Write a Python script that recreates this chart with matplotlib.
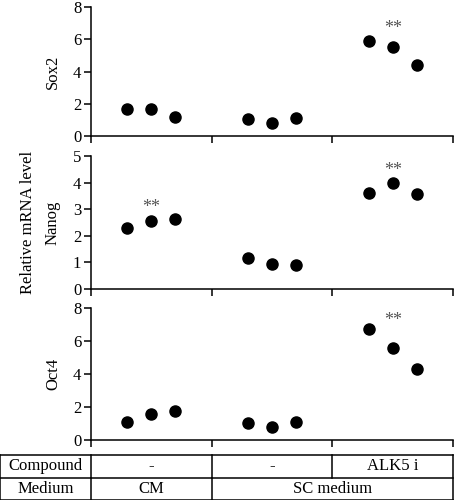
import matplotlib
matplotlib.use("Agg")
import matplotlib.pyplot as plt
import numpy as np

plt.rcParams['font.family'] = ['Liberation Serif', 'DejaVu Serif']
plt.rcParams['font.size'] = 12

# three replicates per group: CM, SC medium, SC medium + ALK5 i
genes = ["Sox2", "Nanog", "Oct4"]
sox2 = [[1.68, 1.68, 1.17], [1.03, 0.83, 1.09], [5.88, 5.53, 4.42]]
nanog = [[2.30, 2.55, 2.64], [1.15, 0.93, 0.90], [3.60, 3.98, 3.56]]
oct4 = [[1.11, 1.59, 1.76], [1.05, 0.83, 1.13], [6.73, 5.61, 4.32]]
values = [sox2, nanog, oct4]
ymax = [8, 5, 8]
yticks = [[0, 2, 4, 6, 8], [0, 1, 2, 3, 4, 5], [0, 2, 4, 6, 8]]

# significance marks: (panel, group, y of glyph centre)
stars = [(0, 2, 7.0), (1, 0, 3.27), (1, 2, 4.67), (2, 2, 7.64)]

compound = ["-", "-", "ALK5 i"]
medium = [("CM", 0, 1), ("SC medium", 1, 3)]

offsets = np.array([-0.2, 0.0, 0.2])

fig = plt.figure(figsize=(4.54, 5.0), dpi=100)
left, width = 91 / 454, 362 / 454
panel_px = [(7, 136), (156, 288.7), (308.3, 440.3)]
axes = []
for i, (top, bot) in enumerate(panel_px):
    ax = fig.add_axes([left, 1 - bot / 500, width, (bot - top) / 500])
    for g in range(3):
        ax.plot(g + 0.5 + offsets, values[i][g], 'o', color='black',
                markersize=8, clip_on=False)
    ax.set_xlim(0, 3)
    ax.set_ylim(0, ymax[i])
    ax.set_yticks(yticks[i])
    ax.set_xticks([0, 1, 2, 3])
    ax.set_xticklabels([])
    for s in ['top', 'right']:
        ax.spines[s].set_visible(False)
    for s in ['left', 'bottom']:
        ax.spines[s].set_linewidth(1.1)
    ax.tick_params(direction='out', length=5, width=1.1, pad=2)
    ax.set_ylabel(genes[i])
    ax.yaxis.set_label_coords(-30 / 362, 0.5)
    axes.append(ax)

for p, g, y in stars:
    axes[p].annotate("**", (g + 0.5, y), xytext=(0, -7.4),
                     textcoords='offset points', ha='center', va='baseline',
                     color='#555555', fontsize=13)

axes[1].text(-63 / 362, 0.5, "Relative mRNA level", rotation=90,
             ha='center', va='center', transform=axes[1].transAxes)

# table under the plots
tab = fig.add_axes([0, 0, 453 / 454, 45 / 500])
x0 = -91 / (362 / 3)
tab.set_xlim(x0, 3)
tab.set_ylim(0, 2)
tab.axis('off')
lw = 1.1
for y in [0, 1, 2]:
    tab.plot([x0, 3], [y, y], color='black', lw=lw, clip_on=False)
tab.plot([x0, x0], [0, 2], color='black', lw=lw, clip_on=False)
tab.plot([3, 3], [0, 2], color='black', lw=lw, clip_on=False)
for xv in [0, 1, 2]:
    tab.plot([xv, xv], [1, 2], color='black', lw=lw, clip_on=False)
for xv in [0, 1]:
    tab.plot([xv, xv], [0, 1], color='black', lw=lw, clip_on=False)
tab.text(x0 / 2, 1.5, "Compound", ha='center', va='center')
tab.text(x0 / 2, 0.5, "Medium", ha='center', va='center')
for g, c in enumerate(compound):
    tab.text(g + 0.5, 1.5, c, ha='center', va='center')
for name, a, b in medium:
    tab.text((a + b) / 2, 0.5, name, ha='center', va='center')

fig.savefig("out.png", dpi=100)
